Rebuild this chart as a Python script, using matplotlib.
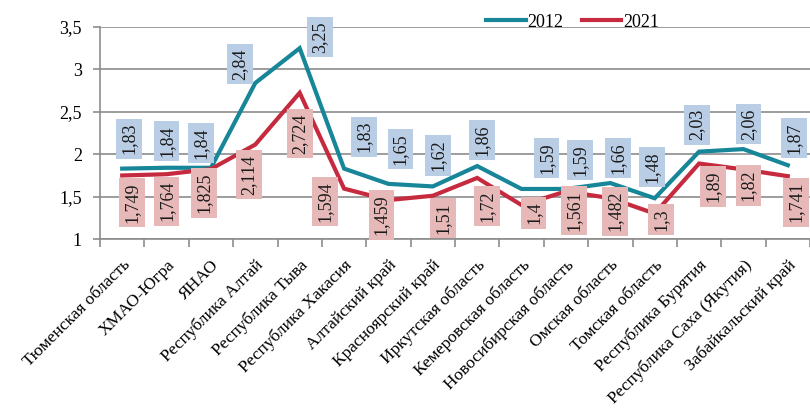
import matplotlib.pyplot as plt

regions = ["Тюменская область", "ХМАО-Югра", "ЯНАО", "Республика Алтай",
           "Республика Тыва", "Республика Хакасия", "Алтайский край",
           "Красноярский край", "Иркутская область", "Кемеровская область",
           "Новосибирская область", "Омская область", "Томская область",
           "Республика Бурятия", "Республика Саха (Якутия)", "Забайкальский край"]
v2012 = [1.83, 1.84, 1.84, 2.84, 3.25, 1.83, 1.65, 1.62, 1.86, 1.59,
         1.59, 1.66, 1.48, 2.03, 2.06, 1.87]
v2021 = [1.749, 1.764, 1.825, 2.114, 2.724, 1.594, 1.459, 1.51, 1.72, 1.4,
         1.561, 1.482, 1.3, 1.89, 1.82, 1.741]
yticks = [1, 1.5, 2, 2.5, 3, 3.5]

# label box offsets from the point, pixels (x right, y up)
off2012 = [(7, 30), (0, 27), (-10, 25), (-15, 19), (20, 11), (20, 32), (12, 35), (5, 31),
           (5, 26), (25, 31), (14, 29), (8, 25), (-3, 31), (-2, 27), (5, 25), (6, 27)]
off2021 = [(10, -27), (0, -27), (-7, -24), (-6, -30), (0, -41), (-19, -13), (-7, -15), (10, -22),
           (10, -28), (12, -8), (8, -19), (5, -13), (6, -6), (14, -23), (5, -16), (8, -26)]

c2012 = "#168698"
c2021 = "#c62a3e"
plt.rcParams['font.family'] = ['Liberation Serif', 'DejaVu Serif']

fig = plt.figure(figsize=(8.1, 4.11), dpi=100)
ax = fig.add_axes([100 / 810, 1 - 239 / 411, 710 / 810, 212 / 411])

x = [i + 0.5 for i in range(len(regions))]
ax.plot(x, v2012, color=c2012, lw=3, label="2012", zorder=3, solid_joinstyle="miter")
ax.plot(x, v2021, color=c2021, lw=3, label="2021", zorder=3, solid_joinstyle="miter")

def fmt(v):
    return ("%g" % v).replace(".", ",")

for i in range(len(regions)):
    ax.annotate(fmt(v2012[i]), (x[i], v2012[i]), xytext=off2012[i], textcoords="offset pixels",
                rotation=90, ha="center", va="center", fontsize=13, color="#1a1a1a",
                bbox=dict(boxstyle="square,pad=0.24", fc="#b9cde5", ec="none"), zorder=4,
                annotation_clip=False)
    ax.annotate(fmt(v2021[i]), (x[i], v2021[i]), xytext=off2021[i], textcoords="offset pixels",
                rotation=90, ha="center", va="center", fontsize=13, color="#1a1a1a",
                bbox=dict(boxstyle="square,pad=0.24", fc="#e6b9b8", ec="none"), zorder=4,
                annotation_clip=False)

ax.set_xlim(0, len(regions))
ax.set_ylim(1, 3.5)
ax.set_yticks(yticks)
ax.set_yticklabels([fmt(v) for v in yticks], fontsize=13)
ax.yaxis.grid(True, color="#8c8c8c", lw=1.2)
ax.set_axisbelow(True)

ax.set_xticks(range(len(regions) + 1))
ax.set_xticklabels([])
ax.set_xticks(x, minor=True)
ax.set_xticklabels(regions, minor=True, rotation=45, ha="right", rotation_mode="anchor",
                   fontsize=12.6)
ax.tick_params(axis="x", which="minor", length=0, pad=13)
ax.tick_params(axis="x", which="major", length=6, color="#8c8c8c", width=1.2)
ax.tick_params(axis="y", length=5, color="#8c8c8c", width=1.2, pad=8)

for s in ["top", "right"]:
    ax.spines[s].set_visible(False)
for s in ["left", "bottom"]:
    ax.spines[s].set_color("#8c8c8c")
    ax.spines[s].set_linewidth(1.2)

ax.legend(loc="lower left", bbox_to_anchor=(0.531, 0.94), ncol=2, frameon=False,
          fontsize=13, handlelength=2.2, handletextpad=0.1, columnspacing=1.0,
          borderpad=0)

fig.savefig("out.png", dpi=100)
